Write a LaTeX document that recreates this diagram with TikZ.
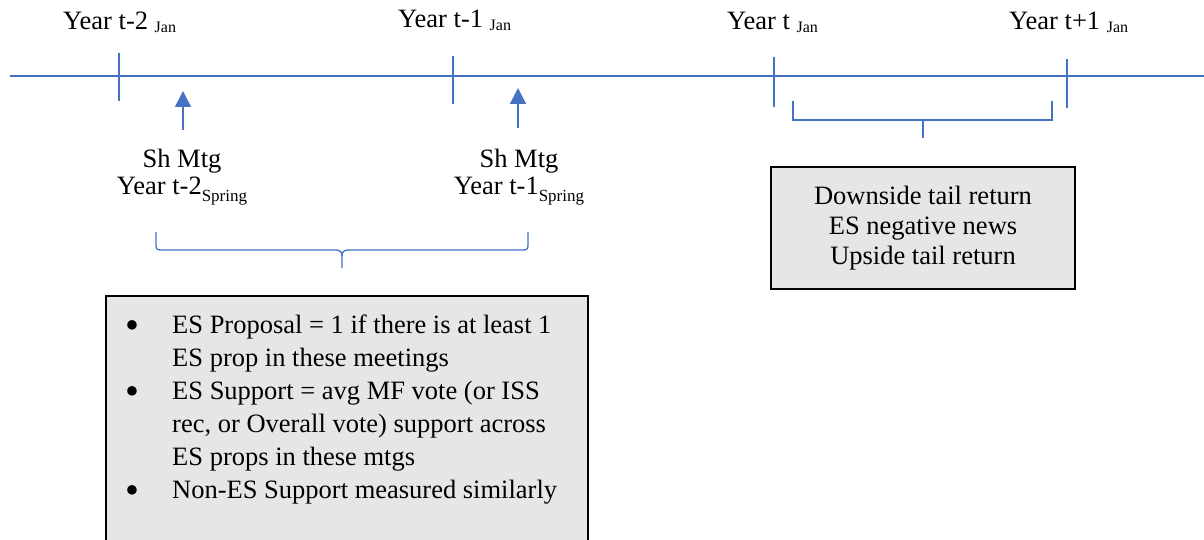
\documentclass[tikz,border=0pt]{standalone}
\usepackage{fontspec}
\setmainfont{Liberation Serif}
\usetikzlibrary{arrows.meta}
\definecolor{tlblue}{HTML}{4472C4}
\definecolor{boxgray}{HTML}{E6E6E6}
\newcommand\janlbl{\raisebox{-3pt}{\fontsize{16}{16}\selectfont Jan}}
\newcommand\sprlbl{\raisebox{-7pt}{\fontsize{17}{17}\selectfont Spring}}
\newcommand\bul{\makebox[47pt][l]{\raisebox{-5pt}{\scalebox{1.5}{\textbullet}}}}
\newcommand\ind{\hspace*{47pt}}
\begin{document}
\begin{tikzpicture}[x=1pt,y=-1pt,
  lbl/.style={font=\fontsize{26.5}{28}\selectfont, inner sep=0pt},
  tline/.style={draw=tlblue, line width=1.3pt},
  bluel/.style={draw=tlblue, line width=1.5pt},
  uparrow/.style={draw=tlblue, line width=1.5pt, -{Triangle[width=16pt,length=16pt]}},
  greybox/.style={draw=black, line width=2pt, fill=boxgray, inner sep=0pt}]
\useasboundingbox (0,0) rectangle (1204,540);
\clip (0,0) rectangle (1204,540);
% timeline
\coordinate (tlL) at (10,76);
\coordinate (tlR) at (1210,76);
\draw[tline] (tlL) -- (tlR);
% ticks
\coordinate (t2a) at (119,53); \coordinate (t2b) at (119,101);
\coordinate (t1a) at (453,56); \coordinate (t1b) at (453,104);
\coordinate (t0a) at (774,57); \coordinate (t0b) at (774,107);
\coordinate (tpa) at (1067,59); \coordinate (tpb) at (1067,108);
\draw[tline] (t2a) -- (t2b);
\draw[tline] (t1a) -- (t1b);
\draw[tline] (t0a) -- (t0b);
\draw[tline] (tpa) -- (tpb);
% year labels
\node[lbl, anchor=base west] (y2) at (63,30) {Year t-2 \janlbl};
\node[lbl, anchor=base west] (y1) at (398,28) {Year t-1 \janlbl};
\node[lbl, anchor=base west] (y0) at (727,30) {Year t \janlbl};
\node[lbl, anchor=base west] (yp) at (1009,30) {Year t+1 \janlbl};
% meeting arrows
\coordinate (a1tail) at (183,130); \coordinate (a1tip) at (183,91);
\coordinate (a2tail) at (518,128); \coordinate (a2tip) at (518,88);
\draw[uparrow] (a1tail) -- (a1tip);
\draw[uparrow] (a2tail) -- (a2tip);
\node[lbl, align=center, anchor=base] (sh1) at (182,195) {Sh Mtg\\Year t-2\sprlbl};
\node[lbl, align=center, anchor=base] (sh2) at (519,195) {Sh Mtg\\Year t-1\sprlbl};
% curly brace under meetings
\coordinate (brL) at (156,232);
\coordinate (brR) at (528,232);
\coordinate (brTip) at (342,268);
\draw[tlblue, line width=1.3pt] (brL) -- (156,245) .. controls (156,249) and (157,250) .. (161,250) -- (336,250) .. controls (340,250) and (342,252) .. (342,256) -- (brTip);
\draw[tlblue, line width=1.3pt] (brR) -- (528,245) .. controls (528,249) and (527,250) .. (523,250) -- (348,250) .. controls (344,250) and (342,252) .. (342,256);
% square bracket under year t
\coordinate (sbL) at (793,101);
\coordinate (sbR) at (1052,101);
\coordinate (sbM) at (923,120);
\coordinate (sbTip) at (923,138);
\draw[bluel] (sbL) -- (793,120) -- (1052,120) -- (sbR);
\draw[bluel] (sbM) -- (sbTip);
% outcome box
\node[greybox, minimum width=304pt, minimum height=122pt, align=center,
      font=\fontsize{26.5}{30}\selectfont] (outbox) at (923,228)
  {Downside tail return\\ES negative news\\Upside tail return};
% proposal box
\node[greybox, anchor=north west, minimum width=482pt, minimum height=300pt] (propbox) at (105,295) {};
\node[lbl, anchor=base west, align=left, font=\fontsize{26.5}{33}\selectfont] (proptext) at (125,498)
  {\bul ES Proposal = 1 if there is at least 1\\
   \ind ES prop in these meetings\\
   \bul ES Support = avg MF vote (or ISS\\
   \ind rec, or Overall vote) support across\\
   \ind ES props in these mtgs\\
   \bul Non-ES Support measured similarly};
\end{tikzpicture}
\end{document}
